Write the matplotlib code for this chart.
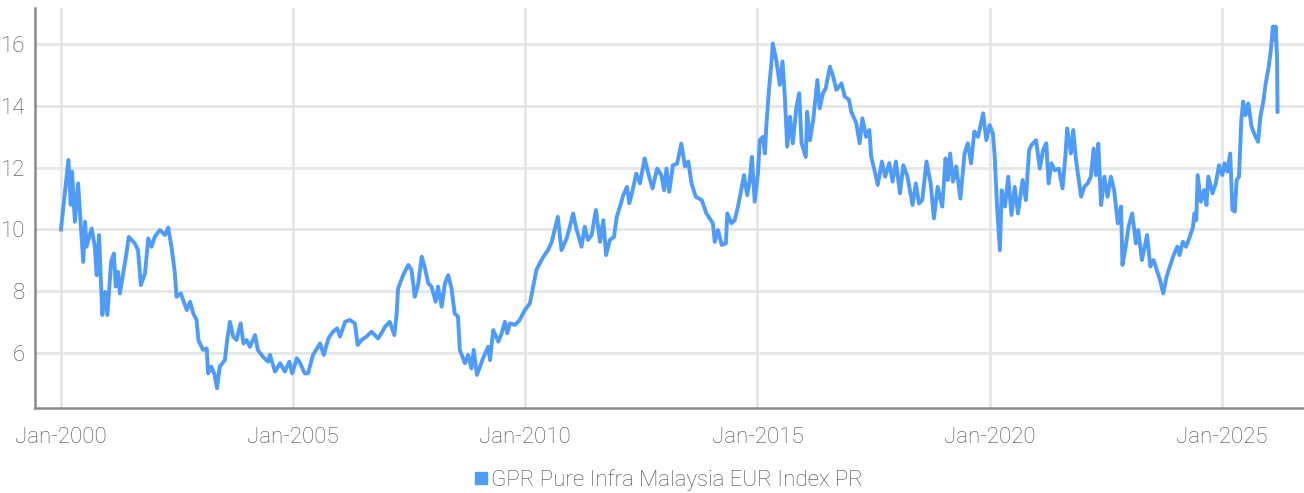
import numpy as np
import matplotlib
matplotlib.use('Agg')
import matplotlib.pyplot as plt
from matplotlib.lines import Line2D

# Values (decimal year, index level)
years = [
    2000.00, 2000.16, 2000.21, 2000.24, 2000.30, 2000.37, 2000.42, 2000.48, 2000.52, 2000.55,
    2000.66, 2000.73, 2000.77, 2000.82, 2000.89, 2000.95, 2001.00, 2001.08, 2001.14, 2001.18,
    2001.23, 2001.27, 2001.34, 2001.41, 2001.46, 2001.59, 2001.66, 2001.72, 2001.81, 2001.88,
    2001.95, 2002.02, 2002.13, 2002.24, 2002.31, 2002.38, 2002.45, 2002.49, 2002.58, 2002.63,
    2002.71, 2002.78, 2002.85, 2002.92, 2002.96, 2003.06, 2003.14, 2003.17, 2003.24, 2003.31,
    2003.36, 2003.42, 2003.53, 2003.58, 2003.64, 2003.71, 2003.78, 2003.87, 2003.93, 2004.00,
    2004.07, 2004.18, 2004.24, 2004.35, 2004.46, 2004.50, 2004.61, 2004.72, 2004.82, 2004.92,
    2004.98, 2005.08, 2005.15, 2005.25, 2005.32, 2005.43, 2005.58, 2005.66, 2005.76, 2005.86,
    2005.95, 2006.01, 2006.12, 2006.22, 2006.33, 2006.39, 2006.47, 2006.58, 2006.69, 2006.76,
    2006.83, 2006.92, 2006.98, 2007.08, 2007.18, 2007.23, 2007.26, 2007.37, 2007.48, 2007.55,
    2007.62, 2007.69, 2007.77, 2007.84, 2007.91, 2007.98, 2008.07, 2008.12, 2008.20, 2008.27,
    2008.34, 2008.41, 2008.48, 2008.55, 2008.59, 2008.70, 2008.77, 2008.84, 2008.89, 2008.96,
    2009.09, 2009.20, 2009.24, 2009.31, 2009.42, 2009.49, 2009.56, 2009.61, 2009.67, 2009.78,
    2009.88, 2009.99, 2010.10, 2010.17, 2010.24, 2010.31, 2010.39, 2010.49, 2010.57, 2010.64,
    2010.70, 2010.78, 2010.89, 2010.96, 2011.03, 2011.10, 2011.21, 2011.28, 2011.35, 2011.43,
    2011.52, 2011.61, 2011.68, 2011.74, 2011.82, 2011.91, 2011.97, 2012.04, 2012.11, 2012.19,
    2012.24, 2012.32, 2012.39, 2012.47, 2012.57, 2012.65, 2012.74, 2012.84, 2012.93, 2012.99,
    2013.04, 2013.10, 2013.18, 2013.27, 2013.36, 2013.44, 2013.51, 2013.58, 2013.67, 2013.80,
    2013.90, 2014.04, 2014.08, 2014.15, 2014.23, 2014.32, 2014.35, 2014.44, 2014.51, 2014.58,
    2014.65, 2014.71, 2014.78, 2014.83, 2014.88, 2014.94, 2015.01, 2015.05, 2015.12, 2015.16,
    2015.19, 2015.25, 2015.30, 2015.33, 2015.41, 2015.48, 2015.54, 2015.59, 2015.64, 2015.70,
    2015.76, 2015.84, 2015.90, 2015.95, 2016.04, 2016.07, 2016.13, 2016.20, 2016.29, 2016.34,
    2016.41, 2016.47, 2016.56, 2016.63, 2016.70, 2016.81, 2016.88, 2016.97, 2017.02, 2017.13,
    2017.20, 2017.26, 2017.34, 2017.41, 2017.45, 2017.52, 2017.59, 2017.68, 2017.75, 2017.84,
    2017.91, 2017.98, 2018.07, 2018.14, 2018.23, 2018.34, 2018.41, 2018.48, 2018.55, 2018.64,
    2018.73, 2018.80, 2018.88, 2018.98, 2019.05, 2019.10, 2019.15, 2019.21, 2019.28, 2019.37,
    2019.46, 2019.53, 2019.60, 2019.67, 2019.75, 2019.86, 2019.93, 2020.00, 2020.07, 2020.11,
    2020.16, 2020.22, 2020.26, 2020.33, 2020.40, 2020.47, 2020.54, 2020.61, 2020.71, 2020.78,
    2020.85, 2020.90, 2021.00, 2021.08, 2021.15, 2021.22, 2021.27, 2021.33, 2021.40, 2021.49,
    2021.57, 2021.63, 2021.67, 2021.75, 2021.80, 2021.86, 2021.97, 2022.04, 2022.11, 2022.18,
    2022.24, 2022.29, 2022.34, 2022.40, 2022.47, 2022.54, 2022.61, 2022.68, 2022.76, 2022.83,
    2022.86, 2022.93, 2022.99, 2023.07, 2023.15, 2023.20, 2023.28, 2023.39, 2023.46, 2023.53,
    2023.60, 2023.67, 2023.74, 2023.81, 2023.88, 2023.95, 2024.04, 2024.09, 2024.16, 2024.23,
    2024.31, 2024.38, 2024.41, 2024.45, 2024.48, 2024.55, 2024.62, 2024.67, 2024.71, 2024.80,
    2024.87, 2024.94, 2025.01, 2025.06, 2025.12, 2025.18, 2025.23, 2025.28, 2025.32, 2025.37,
    2025.42, 2025.46, 2025.51, 2025.57, 2025.64, 2025.71, 2025.78, 2025.83, 2025.90, 2025.94,
    2026.01, 2026.06, 2026.10, 2026.13, 2026.16, 2026.19, 2026.20,
]
values = [
    10.00, 12.25, 10.80, 11.87, 10.25, 11.49, 10.30, 8.95, 10.25, 9.44,
    10.03, 9.44, 8.52, 9.82, 7.23, 7.98, 7.23, 8.95, 9.22, 8.15,
    8.63, 7.93, 8.58, 9.22, 9.76, 9.55, 9.33, 8.20, 8.58, 9.71,
    9.44, 9.76, 9.98, 9.82, 10.06, 9.44, 8.63, 7.82, 7.93, 7.72,
    7.39, 7.66, 7.28, 7.07, 6.42, 6.10, 6.15, 5.34, 5.56, 5.29,
    4.86, 5.56, 5.77, 6.42, 7.01, 6.53, 6.42, 6.96, 6.31, 6.42,
    6.20, 6.58, 6.10, 5.88, 5.72, 5.94, 5.40, 5.67, 5.40, 5.72,
    5.34, 5.83, 5.67, 5.34, 5.34, 5.94, 6.31, 5.94, 6.47, 6.69,
    6.80, 6.53, 7.01, 7.07, 6.96, 6.26, 6.42, 6.53, 6.69, 6.58,
    6.47, 6.69, 6.85, 7.01, 6.58, 7.28, 8.09, 8.52, 8.85, 8.69,
    7.82, 8.20, 9.12, 8.74, 8.26, 8.15, 7.66, 8.15, 7.50, 8.26,
    8.52, 8.09, 7.28, 7.18, 6.10, 5.67, 5.94, 5.50, 6.10, 5.29,
    5.83, 6.20, 5.77, 6.74, 6.37, 6.64, 7.01, 6.64, 6.96, 6.91,
    7.07, 7.39, 7.61, 8.15, 8.69, 8.90, 9.12, 9.33, 9.60, 10.03,
    10.41, 9.33, 9.71, 10.09, 10.52, 10.03, 9.44, 10.09, 9.66, 9.82,
    10.63, 9.60, 10.30, 9.17, 9.66, 9.76, 10.41, 10.74, 11.11, 11.38,
    10.85, 11.33, 11.81, 11.49, 12.30, 11.81, 11.33, 11.97, 11.76, 11.27,
    11.97, 11.22, 12.08, 12.13, 12.78, 12.04, 12.20, 11.49, 11.06, 10.95,
    10.52, 10.20, 9.60, 9.98, 9.50, 9.55, 10.52, 10.20, 10.30, 10.74,
    11.27, 11.76, 11.11, 11.54, 12.35, 10.90, 11.81, 12.89, 13.00, 12.46,
    13.33, 14.57, 15.38, 16.02, 15.44, 14.68, 15.44, 14.30, 12.68, 13.65,
    12.79, 13.98, 14.41, 12.79, 12.35, 13.81, 12.89, 13.54, 14.84, 13.92,
    14.41, 14.57, 15.27, 14.95, 14.52, 14.73, 14.30, 14.20, 13.81, 13.43,
    12.79, 13.60, 13.00, 13.22, 12.35, 11.92, 11.44, 12.20, 11.71, 12.15,
    11.55, 12.20, 11.17, 12.08, 11.71, 10.79, 11.49, 10.84, 10.95, 12.20,
    11.49, 10.36, 11.38, 10.74, 12.30, 11.60, 12.46, 11.55, 12.04, 11.00,
    12.46, 12.79, 12.14, 13.17, 13.00, 13.76, 12.89, 13.38, 13.11, 12.35,
    10.74, 9.33, 11.27, 10.74, 11.71, 10.47, 11.38, 10.52, 11.60, 10.95,
    12.57, 12.73, 12.89, 11.97, 12.57, 12.79, 11.49, 12.14, 11.92, 11.97,
    11.33, 12.35, 13.27, 12.46, 13.22, 12.25, 11.06, 11.38, 11.49, 11.71,
    12.62, 11.76, 12.78, 10.79, 11.71, 11.06, 11.71, 11.28, 10.20, 10.74,
    8.85, 9.44, 10.09, 10.52, 9.55, 9.98, 9.01, 9.82, 8.80, 9.01,
    8.69, 8.36, 7.93, 8.47, 8.80, 9.12, 9.44, 9.17, 9.60, 9.44,
    9.76, 10.09, 10.52, 10.30, 11.76, 10.90, 11.28, 10.79, 11.71, 11.17,
    11.49, 12.08, 11.76, 12.14, 11.87, 12.46, 10.63, 10.58, 11.60, 11.71,
    13.54, 14.14, 13.70, 14.08, 13.33, 13.06, 12.84, 13.65, 14.19, 14.68,
    15.27, 15.86, 16.57, 16.13, 16.57, 15.54, 13.81,
]
x_ticks = [2000, 2005, 2010, 2015, 2020, 2025]
x_labels = ['Jan-2000', 'Jan-2005', 'Jan-2010', 'Jan-2015', 'Jan-2020', 'Jan-2025']
y_ticks = [6, 8, 10, 12, 14, 16]
series_name = 'GPR Pure Infra Malaysia EUR Index PR'


def main():
    plt.rcParams['font.family'] = ['Roboto', 'DejaVu Sans']
    plt.rcParams['font.weight'] = 'light'
    line_color = '#4f9bf8'
    text_color = '#484848'

    fig = plt.figure(figsize=(13.04, 4.93), dpi=100)
    ax = fig.add_axes([0.0268, 0.1724, 0.9732, 0.8114])

    ax.plot(years, values, color=line_color, lw=2.8, solid_joinstyle='round')

    # axes limits and ticks
    ax.set_xlim(1999.44, 2026.77)
    ax.set_ylim(4.22, 17.17)
    ax.set_xticks(x_ticks)
    ax.set_xticklabels(x_labels)
    ax.set_yticks(y_ticks)
    ax.tick_params(length=0, labelsize=16, colors=text_color)
    ax.tick_params(axis='x', pad=14)
    ax.tick_params(axis='y', pad=7)

    # grid and spines
    ax.grid(True, color='#e6e6e6', lw=2)
    ax.set_axisbelow(True)
    for side in ['top', 'right']:
        ax.spines[side].set_visible(False)
    for side in ['left', 'bottom']:
        ax.spines[side].set_color('#8a8a8a')
        ax.spines[side].set_linewidth(1.8)

    # legend below the plot
    handle = Line2D([], [], marker='s', ls='none', color=line_color, markersize=9)
    fig.legend([handle], [series_name], loc='center', bbox_to_anchor=(0.512, 0.026),
               frameon=False, fontsize=16, labelcolor=text_color,
               handletextpad=0.05, handlelength=0.8)

    fig.savefig('out.png', dpi=100)


if __name__ == '__main__':
    main()
